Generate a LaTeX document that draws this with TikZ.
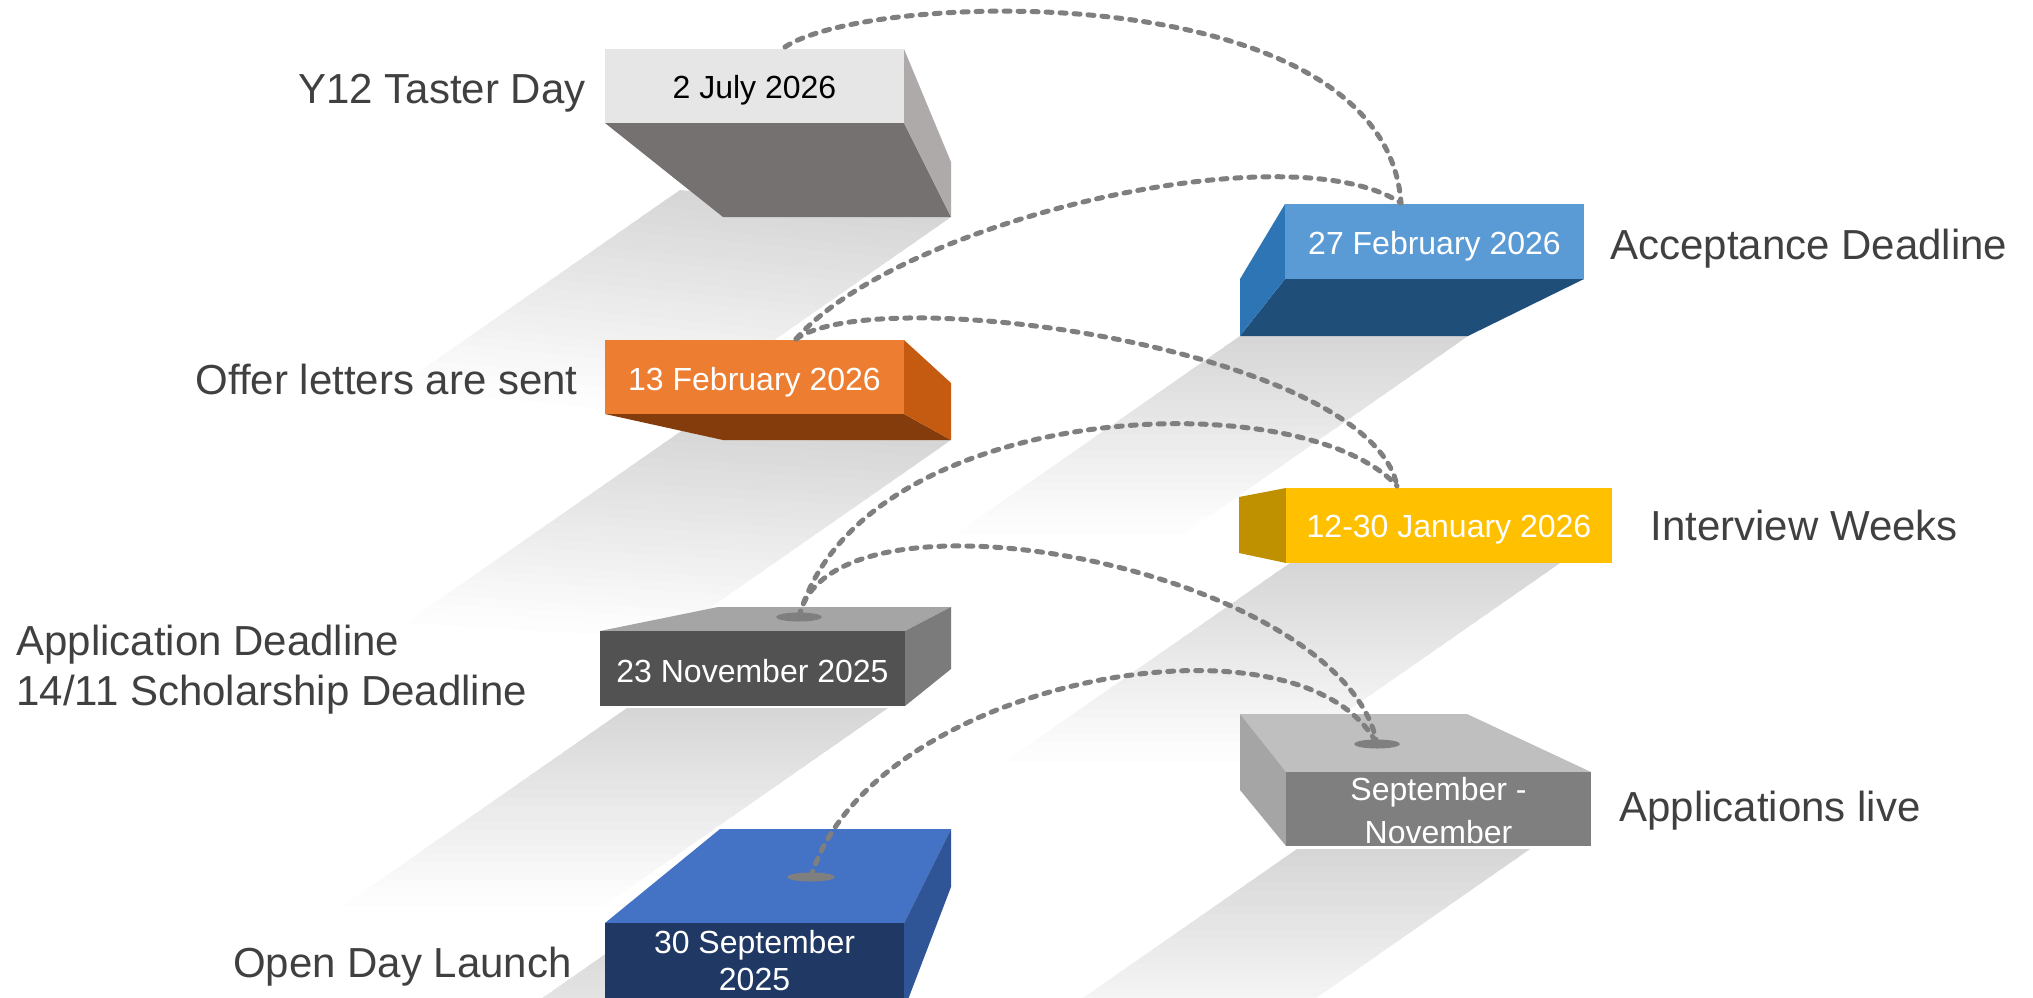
\documentclass[tikz,border=0pt]{standalone}
\usepackage{fontspec}
\setmainfont{Liberation Sans}
\definecolor{labgray}{HTML}{404040}
\definecolor{dotgray}{HTML}{7F7F7F}
\definecolor{aF}{HTML}{E7E6E6}\definecolor{aR}{HTML}{AEAAAA}\definecolor{aB}{HTML}{767171}
\definecolor{bF}{HTML}{5B9BD5}\definecolor{bL}{HTML}{2E75B6}\definecolor{bB}{HTML}{1F4E79}
\definecolor{cF}{HTML}{ED7D31}\definecolor{cR}{HTML}{C55A11}\definecolor{cB}{HTML}{843C0C}
\definecolor{dF}{HTML}{FFC000}\definecolor{dL}{HTML}{BF9000}
\definecolor{eF}{HTML}{525252}\definecolor{eT}{HTML}{A5A5A5}\definecolor{eR}{HTML}{7B7B7B}
\definecolor{fF}{HTML}{7F7F7F}\definecolor{fT}{HTML}{BFBFBF}\definecolor{fL}{HTML}{A5A5A5}
\definecolor{gF}{HTML}{1F3864}\definecolor{gT}{HTML}{4472C4}\definecolor{gR}{HTML}{2F5597}
% cast shadow band: corners A=(#1,#2), B=(#3,#4), extruded along (#5,#6), faded in strips
\newcommand\castshadow[6]{%
  \foreach \i in {0,...,23}{%
    \pgfmathsetmacro\ta{\i/24}%
    \pgfmathsetmacro\tb{(\i+1.4)/24}%
    \pgfmathsetmacro\sh{16*(1-\i/24)}%
    \fill[black!\sh] ({#1+\ta*#5},{#2+\ta*#6}) -- ({#3+\ta*#5},{#4+\ta*#6})
       -- ({#3+\tb*#5},{#4+\tb*#6}) -- ({#1+\tb*#5},{#2+\tb*#6}) -- cycle;
  }}
\begin{document}
\begin{tikzpicture}[x=0.5pt,y=-0.5pt,
  lab/.style={text=labgray, font=\fontsize{21}{25}\selectfont, inner sep=0pt},
  datetxt/.style={text=white, font=\fontsize{16}{18.5}\selectfont, inner sep=0pt, align=center},
  conn/.style={draw=dotgray, line width=2.5pt, line cap=round, dash pattern=on 3pt off 4pt},
  hole/.style={fill=dotgray}]
\useasboundingbox (0,0) rectangle (2033,997);
\clip (0,0) rectangle (2033,997);
% shadows (drawn from the far end first so the darker part lies on top)
\castshadow{1297}{849}{1530}{849}{-280}{195}
\castshadow{1290}{563}{1560}{563}{-280}{195}
\castshadow{1240}{336}{1468}{336}{-280}{195}
\castshadow{640}{930}{760}{930}{-280}{195}
\castshadow{627}{708}{888}{708}{-280}{195}
\castshadow{690}{425}{951}{440}{-280}{195}
\castshadow{680}{190}{951}{217}{-280}{195}
% box 1
\fill[aB] (605,123) -- (904,123) -- (951,217) -- (723,217) -- cycle;
\fill[aR] (904,49) -- (951,162) -- (951,217) -- (904,123) -- cycle;
\fill[aF] (605,49) rectangle (904,123);
\node[datetxt, text=black, anchor=base] (d1) at (754.5,98) {2 July 2026};
% box 2
\fill[bB] (1240,336) -- (1285,279) -- (1584,279) -- (1468,336) -- cycle;
\fill[bL] (1285,204) -- (1240,279) -- (1240,336) -- (1285,279) -- cycle;
\fill[bF] (1285,204) rectangle (1584,279);
\node[datetxt, anchor=base] (d2) at (1434.5,254) {27 February 2026};
% box 3
\fill[cB] (605,414) -- (904,414) -- (951,440) -- (723,440) -- cycle;
\fill[cR] (904,340) -- (951,383) -- (951,440) -- (904,414) -- cycle;
\fill[cF] (605,340) rectangle (904,414);
\node[datetxt, anchor=base] (d3) at (754.5,390) {13 February 2026};
% box 4
\fill[dL] (1239,497) -- (1286,488) -- (1286,563) -- (1239,553) -- cycle;
\fill[dF] (1286,488) rectangle (1612,563);
\node[datetxt, anchor=base] (d4) at (1449,537) {12-30 January 2026};
% box 5
\fill[eT] (600,631) -- (718,607) -- (951,607) -- (905,631) -- cycle;
\fill[eR] (905,631) -- (951,607) -- (951,669) -- (905,706) -- cycle;
\fill[eF] (600,631) rectangle (905,706);
\node[datetxt, anchor=base] (d5) at (752.5,682) {23 November 2025};
% box 6
\fill[fT] (1240,714) -- (1467,714) -- (1591,772) -- (1286,772) -- cycle;
\fill[fL] (1240,714) -- (1286,772) -- (1286,846) -- (1240,790) -- cycle;
\fill[fF] (1286,772) rectangle (1591,846);
\node[datetxt, font=\fontsize{16}{21.5}\selectfont, anchor=base] (d6) at (1438.5,843) {September -\\November};
% box 7
\fill[gT] (605,923) -- (720,829) -- (951,829) -- (904,923) -- cycle;
\fill[gR] (904,923) -- (951,829) -- (951,887) -- (904,1010) -- cycle;
\fill[gF] (605,923) rectangle (904,1010);
\node[datetxt, anchor=base] (d7) at (754.5,990) {30 September\\2025};
% connector end points
\coordinate (c1) at (785,47);
\coordinate (c2) at (1401,203);
\coordinate (c3) at (796,339);
\coordinate (c4) at (1397,486);
\coordinate (e5) at (799,617);
\coordinate (e6) at (1377,744);
\coordinate (e7) at (811,877);
\fill[hole] (e5) ellipse [x radius=23, y radius=4.5];
\fill[hole] (e6) ellipse [x radius=23, y radius=4.5];
\fill[hole] (e7) ellipse [x radius=24, y radius=4.5];
% connectors
\draw[conn] (c1) .. controls (870,-10) and (1385,-25) .. (c2);
\draw[conn] (c3) .. controls (900,220) and (1290,130) .. (c2);
\draw[conn] (c3) .. controls (880,280) and (1370,350) .. (c4);
\draw[conn] (e5) .. controls (860,400) and (1300,380) .. (c4);
\draw[conn] (e5) .. controls (830,470) and (1345,570) .. (e6);
\draw[conn] (e7) .. controls (870,680) and (1300,600) .. (e6);
% labels
\node[lab, anchor=base east] (l1) at (586,103) {Y12 Taster Day};
\node[lab, anchor=base west] (l2) at (1610,259) {Acceptance Deadline};
\node[lab, anchor=base east] (l3) at (578,394) {Offer letters are sent};
\node[lab, anchor=base west] (l4) at (1650,540) {Interview Weeks};
\node[lab, anchor=base west, align=left] (l5) at (16,705) {Application Deadline\\14/11 Scholarship Deadline};
\node[lab, anchor=base west] (l6) at (1619,821) {Applications live};
\node[lab, anchor=base east] (l7) at (572,977) {Open Day Launch};
\end{tikzpicture}
\end{document}
